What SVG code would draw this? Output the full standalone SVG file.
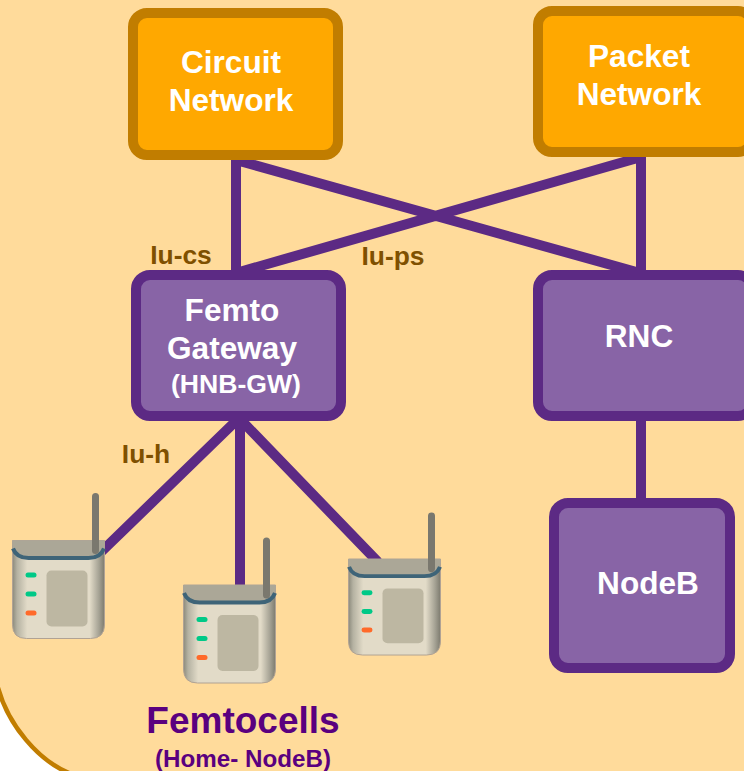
<svg xmlns="http://www.w3.org/2000/svg" width="744" height="771" viewBox="0 0 744 771">
<style>
text{font-family:"Liberation Sans",Arial,sans-serif;font-weight:700;text-anchor:middle}
.net{fill:#FFA800;stroke:#C17D00;stroke-width:10}
.pur{fill:#8864A6;stroke:#5C2A84;stroke-width:10}
.w{fill:#fff;font-size:31.6px}
.lab{fill:#7F5000;font-size:26.4px}
.con{stroke:#5C2A84;stroke-width:10;fill:none}
</style>
<defs>
<linearGradient id="body" x1="0" x2="1" y1="0" y2="0">
<stop offset="0" stop-color="#8C8A7C"/><stop offset=".05" stop-color="#B5B2A2"/><stop offset=".16" stop-color="#E2DBC8"/><stop offset=".84" stop-color="#E2DBC8"/><stop offset=".94" stop-color="#A5A294"/><stop offset="1" stop-color="#7D7B6F"/>
</linearGradient>
<symbol id="cell" overflow="visible">
<path d="M0,0H92V84Q92,98 78,98H14Q0,98 0,84Z" fill="url(#body)" stroke="#B0A294" stroke-width="1"/>
<path d="M0,0H92V4Q92,18 76,18H16Q0,18 0,4Z" fill="#ABA797"/>
<path d="M0.5,8Q4,17.5 16,17.5H76Q88,17.5 91.5,8" fill="none" stroke="#3E6478" stroke-width="4"/>
<rect x="34" y="30" width="41" height="56" rx="5" fill="#BDB7A2"/>
<rect x="13" y="32" width="11" height="5" rx="2.5" fill="#00C987"/>
<rect x="13" y="51" width="11" height="5" rx="2.5" fill="#00C987"/>
<rect x="13" y="70" width="11" height="5" rx="2.5" fill="#FF6A2A"/>
<path d="M83,-44V10" stroke="#7A786E" stroke-width="7" stroke-linecap="round"/>
</symbol>
</defs>
<rect width="744" height="771" fill="#fff"/>
<path id="bg" d="M-4,-4H748V775H74C40,763 6,725 -4,680Z" fill="#FFDB9B"/>
<path d="M-4,680C6,725 40,763 74,775" fill="none" stroke="#C17D00" stroke-width="4.5"/>
<g id="connectors" class="con">
<path d="M236,158V274M236,160L640,273M641,155V274M641,157L236,273"/>
<path d="M641,418V502"/>
<path d="M238,419L100,553M240,419V590M240,419L378,562"/>
</g>
<g id="circuit-network"><rect class="net" x="133" y="13" width="205" height="142" rx="14"/><text class="w" x="231" y="73">Circuit</text><text class="w" x="231" y="111">Network</text></g>
<g id="packet-network"><rect class="net" x="538" y="11" width="214" height="141" rx="14"/><text class="w" x="639" y="67">Packet</text><text class="w" x="639" y="105">Network</text></g>
<g id="femto-gateway"><rect class="pur" x="136" y="275" width="205" height="141" rx="14"/><text class="w" x="232" y="321">Femto</text><text class="w" x="232" y="359">Gateway</text><text x="236" y="393" fill="#fff" font-size="26.6">(HNB-GW)</text></g>
<g id="rnc"><rect class="pur" x="538" y="275" width="214" height="141" rx="14"/><text class="w" x="639" y="347">RNC</text></g>
<g id="nodeb"><rect class="pur" x="554" y="503" width="176" height="165" rx="14"/><text class="w" x="648" y="594">NodeB</text></g>
<g id="femtocell-1"><use href="#cell" x="12.5" y="540.5"/></g>
<g id="femtocell-2"><use href="#cell" x="183.5" y="585"/></g>
<g id="femtocell-3"><use href="#cell" transform="translate(348.5 559) scale(1 .98)"/></g>
<g id="labels">
<text class="lab" x="181" y="264">Iu-cs</text>
<text class="lab" x="393" y="265">Iu-ps</text>
<text class="lab" x="146" y="463">Iu-h</text>
<text x="243" y="733" fill="#5A007F" font-size="37">Femtocells</text>
<text x="243" y="767" fill="#5A007F" font-size="24.2">(Home- NodeB)</text>
</g>
</svg>
